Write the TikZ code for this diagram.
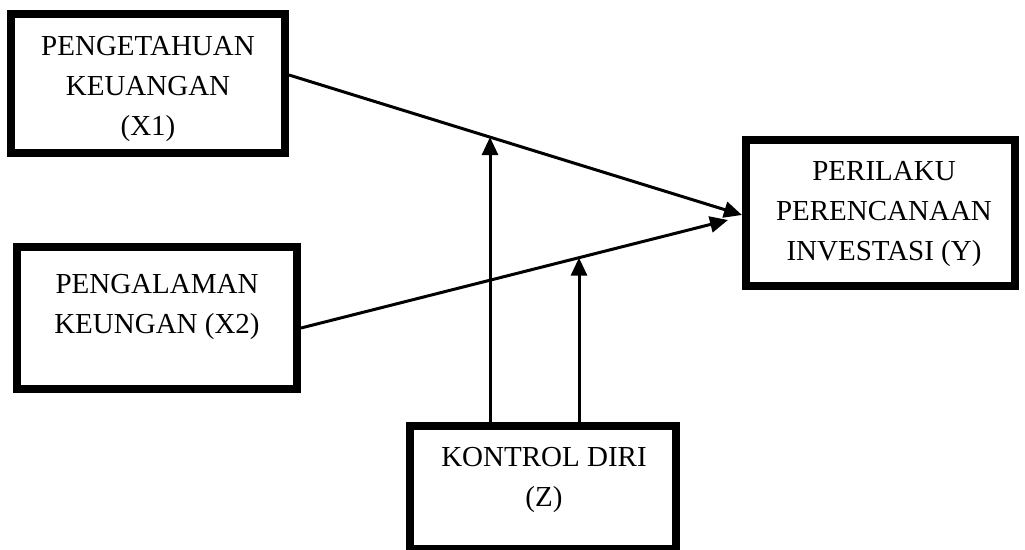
\documentclass[tikz,border=0pt]{standalone}
\usepackage{fontspec}
\setmainfont{Liberation Serif}
\usetikzlibrary{arrows.meta,intersections,calc}
\begin{document}
\begin{tikzpicture}[x=1pt,y=-1pt,
  box/.style={draw=black,line width=8pt,fill=white,inner sep=0pt},
  lbl/.style={align=center,inner sep=0pt,font=\fontsize{29}{40}\selectfont},
  conn/.style={line width=3pt,-{Triangle[length=18pt,width=16pt]}},
  plain/.style={line width=3pt}]
\useasboundingbox (0,0) rectangle (1025,549);
\fill[white] (0,0) rectangle (1025,549);
\begin{scope}
\clip (0,0) rectangle (1025,549);
% boxes
\node[box,minimum width=274pt,minimum height=139pt] (x1) at (148,83.5) {};
\node[box,minimum width=280pt,minimum height=142pt] (x2) at (157,318) {};
\node[box,minimum width=269pt,minimum height=146pt] (y) at (880.5,213) {};
\node[box,minimum width=266pt,minimum height=123pt] (z) at (543,487.5) {};
\end{scope}
% texts
\node[lbl] (tx1) at (148,89) {PENGETAHUAN\\KEUANGAN\\(X1)};
\node[lbl] (tx2) at (157,307) {PENGALAMAN\\KEUNGAN (X2)};
\node[lbl] (ty) at (884,214) {PERILAKU\\PERENCANAAN\\INVESTASI (Y)};
\node[lbl] (tz) at (544,480) {KONTROL DIRI\\(Z)};
% main arrows
\coordinate (s1) at ([yshift=8.5pt]x1.east);
\coordinate (s2) at ([yshift=-10pt]x2.east);
\coordinate (e1) at ([yshift=-2pt]y.west);
\coordinate (e2) at ([xshift=-14pt,yshift=-7pt]y.west);
\draw[conn,name path=l1] (s1) -- (e1);
\draw[conn,name path=l2] (s2) -- (e2);
% moderator arrows
\path[name path=v1] (490,430) -- (490,0);
\path[name path=v2] (579,430) -- (579,0);
\path[name intersections={of=l1 and v1,by=i1}];
\path[name intersections={of=l2 and v2,by=i2}];
\draw[conn] (z.north -| i1) -- (i1);
\draw[conn] (z.north -| i2) -- (i2);
\end{tikzpicture}
\end{document}
